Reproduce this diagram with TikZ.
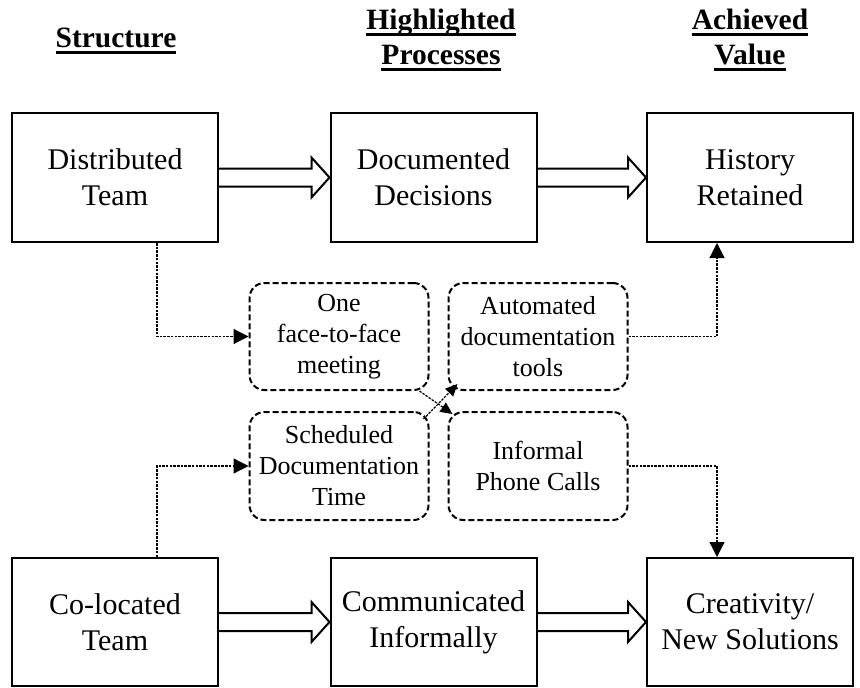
\documentclass[tikz,border=0pt]{standalone}
\usepackage{fontspec}
\setmainfont{Liberation Serif}
\usetikzlibrary{arrows.meta,calc}
\newcommand\myul[1]{\setbox0\hbox{#1}\rlap{\vrule height -3.5pt depth 6pt width \wd0}\box0}
\begin{document}
\begin{tikzpicture}[x=1pt,y=-1pt,
 mainbox/.style={draw,line width=2pt,minimum width=206pt,minimum height=129pt,align=center,font=\fontsize{30}{36}\selectfont,inner sep=0pt},
 optbox/.style={draw,line width=2pt,dash pattern=on 6pt off 3pt,rounded corners=15pt,minimum width=179pt,minimum height=107pt,align=center,font=\fontsize{26}{31}\selectfont,inner sep=0pt},
 title/.style={align=center,font=\fontsize{29.5}{35}\selectfont\bfseries},
 dotline/.style={line width=1.2pt,dash pattern=on 2.5pt off 1.2pt},
 dotarrow/.style={dotline,-{Triangle[width=15pt,length=15pt]}},
 smallarrow/.style={dotline,-{Triangle[width=11pt,length=12pt]}},
 hollow/.style={line width=2pt,line join=miter}]
\useasboundingbox (0,0) rectangle (860,688);

% titles
\node[title] (t1) at (116,41) {\myul{Structure}};
\node[title] (t2) at (441,40) {\myul{Highlighted}\\\myul{Processes}};
\node[title] (t3) at (750,40) {\myul{Achieved}\\\myul{Value}};

% main boxes
\node[mainbox] (dt) at (115,177.5) {Distributed\\Team};
\node[mainbox] (dd) at (433.5,177.5) {Documented\\Decisions};
\node[mainbox] (hr) at (750,177.5) {History\\Retained};
\node[mainbox,minimum height=128pt] (ct) at (115,622) {Co-located\\Team};
\node[mainbox,minimum height=128pt] (ci) at (433.5,622) {Communicated\\Informally};
\node[mainbox,minimum height=128pt] (cn) at (750,622) {Creativity/\\New Solutions};

% dashed boxes
\node[optbox] (f2f) at (339,336.5) {One\\face-to-face\\meeting};
\node[optbox] (adt) at (538,336.5) {Automated\\documentation\\tools};
\node[optbox,minimum height=108pt] (sdt) at (339,466) {Scheduled\\Documentation\\Time};
\node[optbox,minimum height=108pt] (ipc) at (538,466) {Informal\\Phone Calls};

% hollow arrows
\foreach \a/\b in {dt/dd,dd/hr,ct/ci,ci/cn}{
\draw[hollow] ($(\a.east)+(0,-9)$) -- ($(\b.west)+(-18,-9)$) -- ($(\b.west)+(-18,-20)$) -- (\b.west) -- ($(\b.west)+(-18,20)$) -- ($(\b.west)+(-18,9)$) -- ($(\a.east)+(0,9)$);
}

% dotted connectors
\draw[dotarrow] ($(dt.south)+(42,0)$) |- (f2f.west);
\draw[dotarrow] ($(ct.north)+(42,0)$) |- (sdt.west);
\draw[dotarrow] (adt.east) -| ($(hr.south)+(-33,0)$);
\draw[dotarrow] (ipc.east) -| ($(cn.north)+(-33,0)$);
\draw[smallarrow] ($(f2f.south east)+(-10,0)$) -- ($(ipc.north west)+(5,3)$);
\draw[smallarrow] ($(sdt.north east)+(-6,8)$) -- ($(adt.south west)+(10,-7)$);
\end{tikzpicture}
\end{document}
